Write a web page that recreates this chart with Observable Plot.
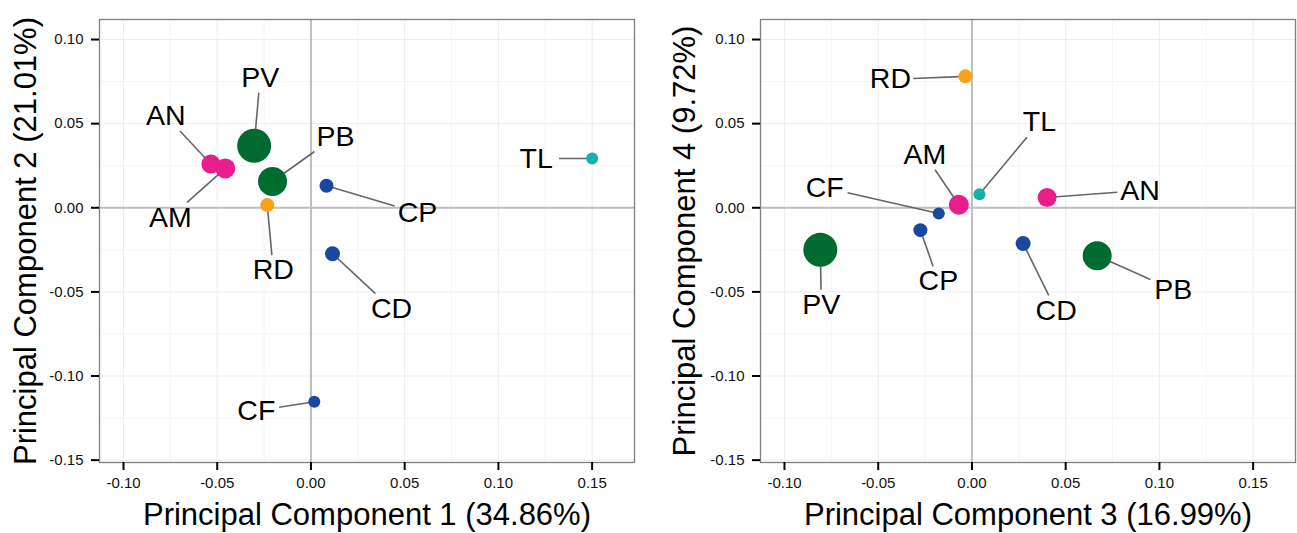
<!DOCTYPE html>
<html>
<head>
<meta charset="utf-8">
<script src="https://cdn.jsdelivr.net/npm/d3@7"></script>
<script src="https://cdn.jsdelivr.net/npm/@observablehq/plot@0.6"></script>
<style>
  html, body { margin: 0; padding: 0; background: #fff; }
  #wrap { display: flex; width: 1297px; height: 533px; overflow: hidden; }
  #wrap svg { display: block; }
</style>
</head>
<body>
<div id="wrap"></div>
<script>
// ---- data ----
const sites     = ["AN", "AM", "PV", "PB", "RD", "CP", "CD", "CF", "TL"];
const groups    = ["A", "A", "P", "P", "R", "C", "C", "C", "T"];
const abundance = [90, 100, 289, 210, 49, 49, 56, 36, 36];
const pc1 = [-0.0534, -0.0457, -0.0303, -0.0205, -0.0233, 0.0083, 0.0115, 0.0018, 0.1500];
const pc2 = [ 0.0260,  0.0234,  0.0369,  0.0156,  0.0016, 0.0131, -0.0273, -0.1153, 0.0293];
const pc3 = [ 0.0401, -0.0070, -0.0809,  0.0668, -0.0035, -0.0275, 0.0273, -0.0177, 0.0040];
const pc4 = [ 0.0061,  0.0018, -0.0250, -0.0285,  0.0781, -0.0133, -0.0212, -0.0034, 0.0081];
const xTickValues  = [-0.10, -0.05, 0, 0.05, 0.10, 0.15];
const yTickValues  = [-0.15, -0.10, -0.05, 0, 0.05, 0.10];
const xMinorValues = [-0.075, -0.025, 0.025, 0.075, 0.125];
const yMinorValues = [-0.125, -0.075, -0.025, 0.025, 0.075];
const groupDomain = ["A", "P", "R", "C", "T"];
const titles = {
  pc1: "Principal Component 1 (34.86%)",
  pc2: "Principal Component 2 (21.01%)",
  pc3: "Principal Component 3 (16.99%)",
  pc4: "Principal Component 4 (9.72%)"
};

// ---- layout (label offsets in pixels, repel-style) ----
const offsets12 = {PV:[6,-68], AN:[-45,-48], AM:[-55,49], PB:[63,-45], CP:[91,27], RD:[6,65], CD:[59,55], TL:[-56,0], CF:[-58,9]};
const offsets34 = {RD:[-75,3], TL:[60,-72], AM:[-34,-50], CF:[-114,-26], AN:[93,-7], CP:[18,51], PV:[1,55], CD:[33,67], PB:[76,34]};
const palette = ["#E91E8C", "#006B2F", "#F7A21B", "#1A48A0", "#14B2A7"];
const fmt = d => d.toFixed(2);

function panel({xs, ys, xLabel, yLabel, offsets, width, marginLeft, marginRight, yTitleDx}) {
  const xDomain = [-0.1128, 0.1726], yDomain = [-0.1514, 0.1119];
  const height = 533, marginTop = 19, marginBottom = 71;
  const iw = width - marginLeft - marginRight, ih = height - marginTop - marginBottom;
  const kx = iw / (xDomain[1] - xDomain[0]), ky = ih / (yDomain[1] - yDomain[0]);
  const fs = 28.5;
  const data = sites.map((s, i) => ({site: s, group: groups[i], abundance: abundance[i], x: xs[i], y: ys[i]}));
  data.forEach(d => {
    const [ox, oy] = offsets[d.site];
    d.lx = d.x + ox / kx;
    d.ly = d.y - oy / ky;
    const hw = d.site.length * fs * 0.33 + 4, hh = 15;
    const tx = ox !== 0 ? hw / Math.abs(ox) : Infinity;
    const ty = oy !== 0 ? hh / Math.abs(oy) : Infinity;
    const t = Math.min(tx, ty);
    d.sx = d.x + ox * (1 - t) / kx;
    d.sy = d.y - oy * (1 - t) / ky;
    d.seg = t < 1;
  });
  return Plot.plot({
    width, height, marginLeft, marginRight, marginTop, marginBottom,
    style: {background: "#fff", fontFamily: "'Liberation Sans', Arial, sans-serif", overflow: "visible"},
    x: {domain: xDomain},
    y: {domain: yDomain},
    r: {domain: [0, 289], range: [0, 17]},
    color: {domain: groupDomain, range: palette},
    marks: [
      Plot.gridX(xMinorValues, {stroke: "#F6F6F6", strokeOpacity: 1}),
      Plot.gridY(yMinorValues, {stroke: "#F6F6F6", strokeOpacity: 1}),
      Plot.gridX(xTickValues, {stroke: "#EEEEEE", strokeOpacity: 1}),
      Plot.gridY(yTickValues, {stroke: "#EEEEEE", strokeOpacity: 1}),
      Plot.ruleX([0], {stroke: "#BEBEBE", strokeWidth: 2}),
      Plot.ruleY([0], {stroke: "#BEBEBE", strokeWidth: 2}),
      Plot.frame({stroke: "#7F7F7F", strokeWidth: 1.3}),
      Plot.axisX(xTickValues, {tickSize: 8, tickPadding: 7, fontSize: 15, tickFormat: fmt, label: null, stroke: "#000", fill: "#111", strokeWidth: 2}),
      Plot.axisY(yTickValues, {tickSize: 8, tickPadding: 8, fontSize: 15, tickFormat: fmt, label: null, stroke: "#000", fill: "#111", strokeWidth: 2}),
      Plot.link(data.filter(d => d.seg), {x1: "x", y1: "y", x2: "sx", y2: "sy", stroke: "#666", strokeWidth: 1.6}),
      Plot.dot(data, {x: "x", y: "y", r: "abundance", fill: "group"}),
      Plot.text(data, {x: "lx", y: "ly", text: "site", fontSize: fs, fill: "#000"}),
      Plot.text([xLabel], {frameAnchor: "bottom", textAnchor: "middle", lineAnchor: "middle", dy: 53, fontSize: 31, text: d => d, fill: "#000"}),
      Plot.text([yLabel], {frameAnchor: "left", textAnchor: "middle", lineAnchor: "middle", dx: yTitleDx, rotate: -90, fontSize: 31, text: d => d, fill: "#000"})
    ]
  });
}

const wrap = document.getElementById("wrap");
wrap.append(panel({xs: pc1, ys: pc2, xLabel: titles.pc1, yLabel: titles.pc2, offsets: offsets12,
  width: 648, marginLeft: 99, marginRight: 14, yTitleDx: -73}));
wrap.append(panel({xs: pc3, ys: pc4, xLabel: titles.pc3, yLabel: titles.pc4, offsets: offsets34,
  width: 649, marginLeft: 112, marginRight: 2, yTitleDx: -75}));
</script>
</body>
</html>
